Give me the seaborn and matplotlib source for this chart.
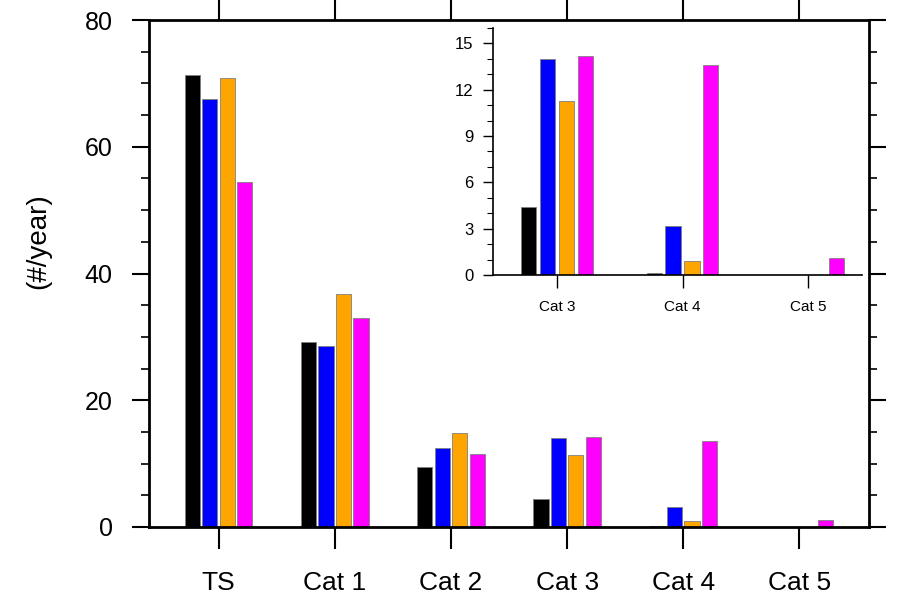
import numpy as np
import pandas as pd
import matplotlib
matplotlib.use('Agg')
import matplotlib.pyplot as plt
from matplotlib.ticker import MultipleLocator, NullLocator
import seaborn as sns

sns.set_style('ticks')
plt.rcParams['font.family'] = ['Liberation Sans', 'DejaVu Sans']
plt.rcParams.update({'text.color': 'black', 'axes.labelcolor': 'black',
                     'xtick.color': 'black', 'ytick.color': 'black',
                     'axes.edgecolor': 'black'})

# DATA
categories = ['TS', 'Cat 1', 'Cat 2', 'Cat 3', 'Cat 4', 'Cat 5']
runs = ['run1', 'run2', 'run3', 'run4']
run1 = [71.4, 29.2, 9.4, 4.4, 0.1, 0.0]   # black
run2 = [67.6, 28.6, 12.5, 14.0, 3.2, 0.0]  # blue
run3 = [70.9, 36.8, 14.9, 11.3, 0.9, 0.0]  # orange
run4 = [54.4, 33.0, 11.5, 14.2, 13.6, 1.1]  # magenta
colors = ['black', '#0000ff', '#ffa500', '#ff00ff']
inset_cats = ['Cat 3', 'Cat 4', 'Cat 5']

df = pd.DataFrame({
    'category': np.tile(categories, len(runs)),
    'run': np.repeat(runs, len(categories)),
    'count': run1 + run2 + run3 + run4,
})
df_in = df[df['category'].isin(inset_cats)]

fig = plt.figure(figsize=(8.97, 5.94), dpi=100)

# MAIN PLOT
ax = fig.add_axes([0.166, 0.1128, 0.803, 0.8535])
sns.barplot(data=df, x='category', y='count', hue='run', order=categories,
            hue_order=runs, palette=colors, saturation=1, width=0.6, gap=0.13,
            edgecolor='grey', linewidth=0.6, errorbar=None, legend=False, ax=ax)
ax.set_xlim(-0.6, 5.6)
ax.set_ylim(0, 80)
ax.yaxis.set_major_locator(MultipleLocator(20))
ax.yaxis.set_minor_locator(MultipleLocator(5))
ax.xaxis.set_minor_locator(NullLocator())
for s in ax.spines.values():
    s.set_linewidth(2)
    s.set_visible(True)
ax.tick_params(axis='y', which='major', direction='out', length=12, width=1.5,
               labelsize=18, pad=14, right=True)
ax.tick_params(axis='y', which='minor', direction='out', length=6, width=1.2, right=True)
ax.tick_params(axis='x', which='major', direction='out', length=16, width=1.5,
               labelsize=19, pad=16, top=True)
ax.set_xlabel('')
ax.set_ylabel('(#/year)', fontsize=20, va='center')
ax.yaxis.set_label_coords(-0.154, 0.564)

# INSET
axi = fig.add_axes([0.5496, 0.537, 0.4114, 0.416])
sns.barplot(data=df_in, x='category', y='count', hue='run', order=inset_cats,
            hue_order=runs, palette=colors, saturation=1, width=0.6, gap=0.18,
            edgecolor='grey', linewidth=0.6, errorbar=None, legend=False, ax=axi)
axi.set_xlim(-0.51, 2.43)
axi.set_ylim(0, 16)
axi.yaxis.set_major_locator(MultipleLocator(3))
axi.yaxis.set_minor_locator(MultipleLocator(1))
axi.xaxis.set_minor_locator(NullLocator())
axi.spines['top'].set_visible(False)
axi.spines['right'].set_visible(False)
axi.spines['left'].set_linewidth(1.2)
axi.spines['bottom'].set_linewidth(1.2)
axi.tick_params(axis='y', which='major', direction='out', length=7, width=1,
                labelsize=12, pad=7)
axi.tick_params(axis='y', which='minor', direction='out', length=4, width=0.8)
axi.tick_params(axis='x', which='major', direction='out', length=9, width=1,
                labelsize=11, pad=9)
axi.set_xlabel('')
axi.set_ylabel('')
axi.patch.set_alpha(0)

plt.savefig('out.png', dpi=100)
